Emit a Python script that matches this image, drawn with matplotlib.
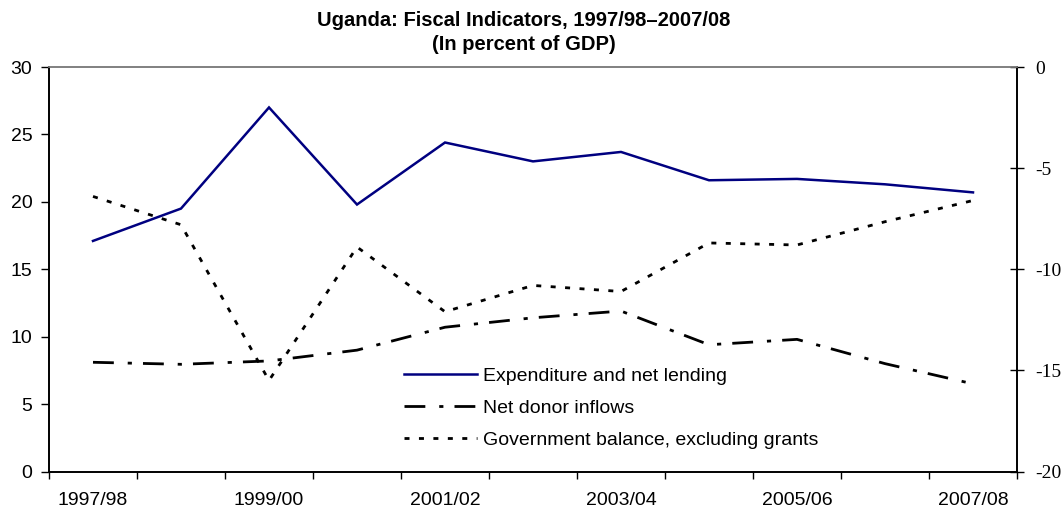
import matplotlib
matplotlib.use("Agg")
import matplotlib.pyplot as plt
from matplotlib.ticker import FixedLocator, NullFormatter

# Fiscal years on the category axis
years = ["1997/98", "1998/99", "1999/00", "2000/01", "2001/02", "2002/03",
         "2003/04", "2004/05", "2005/06", "2006/07", "2007/08"]

# Left axis series (percent of GDP)
expenditure = [17.1, 19.5, 27.0, 19.8, 24.4, 23.0, 23.7, 21.6, 21.7, 21.3, 20.7]
donor_inflows = [8.1, 7.95, 8.2, 9.0, 10.7, 11.4, 11.9, 9.4, 9.8, 8.0, 6.5]

# Right axis series (percent of GDP)
balance_ex_grants = [-6.4, -7.8, -15.5, -8.9, -12.1, -10.8, -11.1, -8.7, -8.8, -7.65, -6.6]

left_ticks = [0, 5, 10, 15, 20, 25, 30]
right_ticks = [-20, -15, -10, -5, 0]

sans = "Liberation Sans"
serif = "Liberation Serif"
plt.rcParams["font.family"] = sans
plt.rcParams["axes.unicode_minus"] = False

fig = plt.figure(figsize=(10.63, 5.13), dpi=100)
ax = fig.add_axes([49 / 1063, 1 - 471.5 / 513, (1017 - 49) / 1063, (471.5 - 67) / 513])
ax2 = ax.twinx()

x = list(range(len(years)))
navy = "#000080"

l1, = ax.plot(x, expenditure, color=navy, lw=1.8, solid_joinstyle="miter")
l2, = ax.plot(x, donor_inflows, color="black", lw=2.0,
              linestyle=(0, (7.5, 5, 1.5, 4)))
l3, = ax2.plot(x, balance_ex_grants, color="black", lw=2.0,
               linestyle=(0, (1.8, 3.4)))

ax.set_xlim(-0.5, len(years) - 0.5)
ax.set_ylim(0, 30)
ax2.set_ylim(-20, 0)

# Category labels on every other year, tick marks between categories
ax.set_xticks(x[::2])
ax.set_xticklabels(years[::2])
ax.xaxis.set_minor_locator(FixedLocator([i - 0.5 for i in range(len(years) + 1)]))
ax.xaxis.set_minor_formatter(NullFormatter())
ax.tick_params(axis="x", which="major", length=0, pad=15, labelsize=14)
ax.tick_params(axis="x", which="minor", length=5, width=1, direction="out", color="black")

ax.set_yticks(left_ticks)
ax.tick_params(axis="y", length=6, width=1, direction="out", labelsize=14, pad=6)

ax2.set_yticks(right_ticks)
ax2.tick_params(axis="y", length=10, width=1, direction="inout", labelsize=14, pad=8)
for lab in ax2.get_yticklabels():
    lab.set_fontfamily(serif)

for a in (ax, ax2):
    a.spines["top"].set_color("#808080")
    a.spines["top"].set_linewidth(1.2)
    for s in ("left", "right", "bottom"):
        a.spines[s].set_color("black")
        a.spines[s].set_linewidth(1.2)

fig.text(524 / 1063, 1 - 20 / 513, "Uganda: Fiscal Indicators, 1997/98\u20132007/08",
         ha="center", va="center", fontsize=14.5, fontweight="bold")
fig.text(524 / 1063, 1 - 45 / 513, "(In percent of GDP)",
         ha="center", va="center", fontsize=14.5, fontweight="bold")

leg = ax.legend([l1, l2, l3],
                ["Expenditure and net lending", "Net donor inflows",
                 "Government balance, excluding grants"],
                loc="upper left", bbox_to_anchor=(404 / 1063, 1 - 367 / 513),
                bbox_transform=fig.transFigure,
                frameon=False, fontsize=14, handlelength=3.75, handletextpad=0.3,
                labelspacing=0.75, borderpad=0, borderaxespad=0)

fig.savefig("out.png", dpi=100)
